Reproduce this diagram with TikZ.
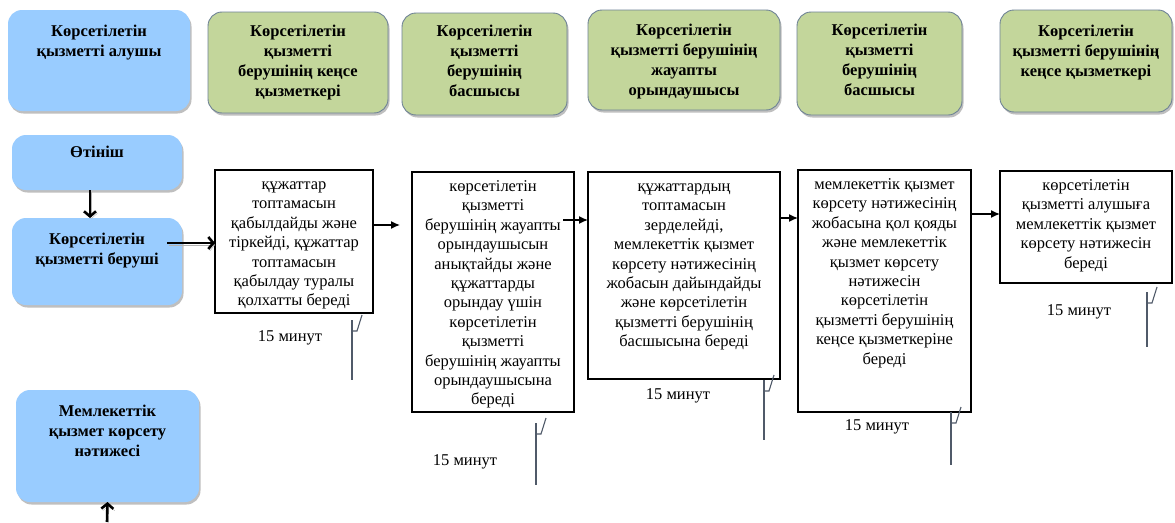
\documentclass[tikz,border=0pt]{standalone}
\usepackage{fontspec}
\setmainfont{Liberation Serif}
\usetikzlibrary{arrows.meta,shadows,calc}
\definecolor{bluefill}{RGB}{153,204,255}
\definecolor{greenfill}{RGB}{195,214,155}
\definecolor{greenline}{RGB}{110,130,150}
\definecolor{hookcol}{RGB}{80,90,105}
\newcommand\fsz{\fontsize{16.5}{19.4}\selectfont}
\newcommand\hsz{\fontsize{16.5}{19.8}\selectfont}
\newcommand\tp[4]{\parbox[c][#2][t]{#1}{\centering\vspace*{#3}\strut #4\par}}
\tikzset{
 base/.style={inner sep=0pt, outer sep=0pt},
 softshadow/.style={drop shadow={shadow xshift=1.5pt, shadow yshift=-2.5pt, opacity=0.25, fill=black}},
 bluebox/.style={base, rounded corners=14pt, fill=bluefill, font=\bfseries\hsz, softshadow},
 greenbox/.style={base, rounded corners=14pt, fill=greenfill, draw=greenline, line width=0.9pt, font=\bfseries\hsz, softshadow},
 procbox/.style={base, draw=black, line width=1.3pt, fill=white, font=\fsz},
 timelbl/.style={font=\fsz, inner sep=0pt},
 flow/.style={line width=1.4pt, -{Latex[length=9pt,width=8pt]}},
 bigflow/.style={line width=2.6pt, -{Straight Barb[length=5pt,width=12pt]},
   preaction={draw=black!30, transform canvas={shift={(1.5pt,-2pt)}}}},
 hk/.style={draw=hookcol, line width=1.1pt},
 hookmark/.pic={\draw[hk] (0,0) -- (0,#1); \draw[hk] (0,11) -- (5,11) -- (10,-5);}
}
\begin{document}
\begin{tikzpicture}[x=1pt,y=-1pt]
\useasboundingbox[fill=white] (0,0) rectangle (1175,522);
% headers
\node[bluebox] (h1) at (99,60.5) {\tp{182pt}{101pt}{13pt}{Көрсетілетін\\қызметті алушы}};
\node[greenbox] (h2) at (298,62.5) {\tp{180pt}{101pt}{11pt}{Көрсетілетін\\қызметті\\берушінің кеңсе\\қызметкері}};
\node[greenbox] (h3) at (484.5,64) {\tp{165pt}{102pt}{10pt}{Көрсетілетін\\қызметті\\берушінің\\басшысы}};
\node[greenbox] (h4) at (684,60) {\tp{192pt}{100pt}{12pt}{Көрсетілетін\\қызметті берушінің\\жауапты\\орындаушысы}};
\node[greenbox] (h5) at (879.5,63.5) {\tp{165pt}{103pt}{10pt}{Көрсетілетін\\қызметті\\берушінің\\басшысы}};
\node[greenbox] (h6) at (1086,61) {\tp{172pt}{102pt}{13pt}{Көрсетілетін\\қызметті берушінің\\кеңсе қызметкері}};
% left column
\node[bluebox] (app) at (97,162.5) {\tp{170pt}{55pt}{9pt}{Өтініш}};
\node[bluebox] (give) at (97,261.5) {\tp{170pt}{87pt}{13pt}{Көрсетілетін\\қызметті беруші}};
\node[bluebox] (res) at (107.5,446) {\tp{183pt}{112pt}{13pt}{Мемлекеттік\\қызмет көрсету\\нәтижесі}};
% process boxes
\node[procbox] (b1) at (294,241.5) {\tp{158pt}{143pt}{6pt}{құжаттар\\топтамасын\\қабылдайды және\\тіркейді, құжаттар\\топтамасын\\қабылдау туралы\\қолхатты береді}};
\node[procbox] (b2) at (493,292) {\tp{162pt}{240pt}{6pt}{көрсетілетін\\қызметті\\берушінің жауапты\\орындаушысын\\анықтайды және\\құжаттарды\\орындау үшін\\көрсетілетін\\қызметті\\берушінің жауапты\\орындаушысына\\береді}};
\node[procbox] (b3) at (684,275.5) {\tp{192pt}{207pt}{6pt}{құжаттардың\\топтамасын\\зерделейді,\\мемлекеттік қызмет\\көрсету нәтижесінің\\жобасын дайындайды\\және көрсетілетін\\қызметті берушінің\\басшысына береді}};
\node[procbox] (b4) at (884.5,291) {\tp{173pt}{242pt}{6pt}{мемлекеттік қызмет\\көрсету нәтижесінің\\жобасына қол қояды\\және мемлекеттік\\қызмет көрсету\\нәтижесін\\көрсетілетін\\қызметті берушінің\\кеңсе қызметкеріне\\береді}};
\node[procbox] (b5) at (1086,227) {\tp{172pt}{112pt}{6pt}{көрсетілетін\\қызметті алушыға\\мемлекеттік қызмет\\көрсету нәтижесін\\береді}};
% time labels
\node[timelbl] (t1) at (290,338) {15 минут};
\node[timelbl] (t2) at (465,462) {15 минут};
\node[timelbl] (t3) at (678,396) {15 минут};
\node[timelbl] (t4) at (877,427) {15 минут};
\node[timelbl] (t5) at (1079,312) {15 минут};
% hook marks
\pic at (352,320) {hookmark=60};
\pic at (536,423) {hookmark=62};
\pic at (764,380) {hookmark=60};
\pic at (951,412) {hookmark=53};
\pic at (1147,292) {hookmark=55};
% connectors
\draw[bigflow] ([xshift=-7pt]app.south) -- ([xshift=-7pt]give.north);
\draw[bigflow] ([xshift=-15pt,yshift=18.5pt]give.east) coordinate (g1) -- (g1 -| b1.west);
\coordinate (bot) at (107,522);
\draw[bigflow] (bot) -- (res.south);
\draw[flow, shorten >=12pt] ([yshift=16.5pt]b1.east) coordinate (a1) -- (a1 -| b2.west);
\draw[flow] ([xshift=-11pt,yshift=72pt]b2.east) coordinate (a2) -- (a2 -| b3.west);
\draw[flow] ([yshift=57.5pt]b3.east) coordinate (a3) -- (a3 -| b4.west);
\draw[flow] ([yshift=77pt]b4.east) coordinate (a4) -- (a4 -| b5.west);
\end{tikzpicture}
\end{document}
